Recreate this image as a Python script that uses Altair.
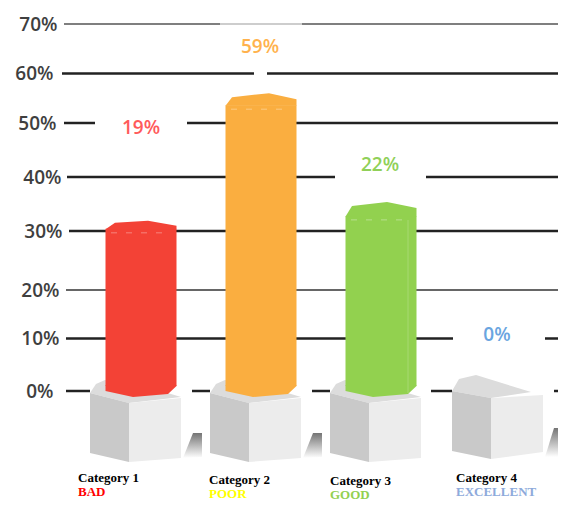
import altair as alt
import pandas as pd

# ---- values ----
categories = ["Category 1", "Category 2", "Category 3", "Category 4"]
ratings = ["BAD", "POOR", "GOOD", "EXCELLENT"]
rating_colors = ["#ff0000", "#ffff00", "#92d050", "#8eaadb"]
value_labels = ["19%", "59%", "22%", "0%"]
value_colors = ["#ff5a5a", "#ffb24d", "#90d058", "#6aa5e0"]
bar_categories = ["Category 1", "Category 2", "Category 3"]
bar_values = [30.4, 53.6, 32.8]
bar_colors = ["#f34236", "#faae40", "#92d14f"]
ticks = [0, 10, 20, 30, 40, 50, 60, 70]

# ---- layout ----
ORIGIN_X = 70
W, H = 558 - ORIGIN_X, 493
y_scale = alt.Scale(domain=ticks, range=[383, 330.5, 282, 223, 169, 115, 65.5, 16], nice=False, zero=False)
x_scale = alt.Scale(type="point", domain=categories, range=[71, 431], padding=0)
X = alt.X("category:N", scale=x_scale, axis=None)

# tick, start, end, width, colour (page pixels)
segments = [
    (70, 64, 220, 1.5, "#555555"), (70, 220, 302, 1.5, "#bdbdbd"), (70, 302, 558, 1.5, "#555555"),
    (60, 62, 254, 2.5, "#222222"), (60, 267, 558, 2.5, "#222222"),
    (50, 64, 95, 2.5, "#222222"), (50, 187, 558, 2.5, "#222222"),
    (40, 67, 335, 2.5, "#222222"), (40, 426, 558, 2.5, "#222222"),
    (30, 69, 558, 2.5, "#222222"),
    (20, 66, 558, 1.5, "#333333"),
    (10, 66, 453, 2.5, "#222222"), (10, 545, 558, 2.5, "#222222"),
    (0, 66, 90, 2.5, "#222222"), (0, 192, 210, 2.5, "#222222"), (0, 312, 330, 2.5, "#222222"),
    (0, 431, 452, 2.5, "#222222"), (0, 554, 558, 2.5, "#222222"),
]
seg_df = pd.DataFrame(
    [{"tick": t, "x0": a - ORIGIN_X, "x1": b - ORIGIN_X, "w": w, "c": c} for t, a, b, w, c in segments]
)

label_right = {70: 57, 60: 53, 50: 56, 40: 61, 30: 62, 20: 59, 10: 59, 0: 53}
pad_conditions = [
    {"test": f"datum.value == {k}", "value": ORIGIN_X - v} for k, v in label_right.items()
]

# Shapes: pixel offsets from the anchor (a custom symbol of size 4 is drawn 1:1)
def poly(points):
    return "M" + "L".join(f"{x} {y}" for x, y in points) + "Z"

CUBE_LEFT = poly([(-51, 2), (-12, 12), (-12, 71), (-51, 62)])
CUBE_RIGHT = poly([(-12, 12), (40, 7), (40, 67), (-12, 71)])
CUBE_TOP = poly([(-51, 2), (-45, -7), (-36, -11), (0, -6), (40, 6), (-12, 12)])
CUBE4_LEFT = poly([(-49, 0), (-10, 7), (-10, 68), (-49, 60)])
CUBE4_RIGHT = poly([(-10, 7), (42, 4), (42, 61), (-10, 68)])
CUBE4_TOP = poly([(-49, 0), (-42, -12), (-25, -16), (30, 1), (-10, 7)])
SHADOW = poly([(52, 42), (61, 42), (61, 66), (42, 67)])
SHADOW4 = poly([(53, 37), (57, 37), (57, 66), (44, 66)])
CAPS_TOP = [
    poly([(-35.5, 0.5), (-26, -6), (7, -8), (35.5, -3), (35.5, 0.5)]),
    poly([(-35.5, 0.5), (-29, -8), (8, -12), (35.5, -6), (35.5, 0.5)]),
    poly([(-35.5, 0.5), (-29, -10), (6, -14), (35.5, -8), (35.5, 0.5)]),
]
CAP_BOTTOM = poly([(-35.5, -6), (-35.5, 0), (-8, 6), (27, 3), (35.5, -5), (35.5, -6)])
CAP_DASH = "M-30 4L30 4"
GREEN_EDGE = "M27 -171L27 2"

shade = alt.LinearGradient(
    gradient="linear",
    stops=[alt.GradientStop(color="#747474", offset=0), alt.GradientStop(color="#ffffff", offset=1)],
    x1=0, x2=0, y1=0, y2=1,
)


def shape(category, path, fill, y=alt.datum(0)):
    return (
        alt.Chart(pd.DataFrame({"category": [category]}))
        .mark_point(shape=path, size=4, filled=True, fill=fill, opacity=1, strokeWidth=0)
        .encode(x=X, y=y)
    )


grid = (
    alt.Chart(seg_df)
    .mark_rule()
    .encode(
        x=alt.X("x0:Q", scale=None, axis=None),
        x2="x1:Q",
        y=alt.Y(
            "tick:Q",
            scale=y_scale,
            axis=alt.Axis(
                values=ticks, title=None, domain=False, ticks=False, grid=False,
                labelExpr="datum.value + '%'",
                labelFont="Open Sans", labelFontSize=19, labelFontWeight=600, labelColor="#3f3f3f",
                labelPadding={"condition": pad_conditions, "value": 10},
            ),
        ),
        strokeWidth=alt.StrokeWidth("w:Q", scale=None),
        color=alt.Color("c:N", scale=None),
    )
)

layers = [grid]

for c, s in ((categories[0], SHADOW), (categories[1], SHADOW), (categories[3], SHADOW4)):
    layers.append(shape(c, s, shade))
for c in categories[:3]:
    layers += [shape(c, CUBE_TOP, "#dcdcdc"), shape(c, CUBE_LEFT, "#c9c9c9"), shape(c, CUBE_RIGHT, "#ececec")]
layers += [
    shape(categories[3], CUBE4_TOP, "#dcdcdc"),
    shape(categories[3], CUBE4_LEFT, "#c9c9c9"),
    shape(categories[3], CUBE4_RIGHT, "#ececec"),
]

bars_df = pd.DataFrame({"category": bar_categories, "value": bar_values, "c": bar_colors})
layers.append(
    alt.Chart(bars_df)
    .mark_bar(size=71)
    .encode(
        x=X,
        y=alt.Y("value:Q", scale=y_scale),
        y2=alt.datum(1),
        color=alt.Color("c:N", scale=None),
    )
)

Yval = alt.Y("value:Q", scale=y_scale)
for cat, val, col, cap in zip(bar_categories, bar_values, bar_colors, CAPS_TOP):
    d = pd.DataFrame({"category": [cat], "value": [val]})
    layers.append(
        alt.Chart(d).mark_point(shape=cap, size=4, filled=True, fill=col, opacity=1, strokeWidth=0).encode(x=X, y=Yval)
    )
    layers.append(shape(cat, CAP_BOTTOM, col))
    layers.append(
        alt.Chart(d)
        .mark_point(shape=CAP_DASH, size=4, filled=False, stroke="#ffffff", strokeWidth=1, strokeDash=[6, 9], opacity=0.35)
        .encode(x=X, y=Yval)
    )

layers.append(
    alt.Chart(pd.DataFrame({"category": [categories[2]]}))
    .mark_point(shape=GREEN_EDGE, size=4, filled=False, stroke="#ffffff", strokeWidth=1, opacity=0.2)
    .encode(x=X, y=alt.datum(0))
)

# value labels
value_y = [120, 39, 157, 327]
for cat, txt, col, vy in zip(categories, value_labels, value_colors, value_y):
    layers.append(
        alt.Chart(pd.DataFrame({"category": [cat], "t": [txt]}))
        .mark_text(font="Open Sans", fontSize=19, fontWeight=600, color=col, baseline="middle", align="center",
                   dx={"Category 1": 0, "Category 2": -1, "Category 3": -1, "Category 4": -4}[cat])
        .encode(x=X, y=alt.value(vy), text="t:N")
    )

# category labels (moved up a little so the rating line stays inside the drawable page)
cat_dx = [-63, -52, -51, -45]
cat_y = [470, 472, 473, 470]
rate_y = [484, 486, 487, 484]
for cat, rating, rc, dx, cy, ry in zip(categories, ratings, rating_colors, cat_dx, cat_y, rate_y):
    d = pd.DataFrame({"category": [cat], "a": [cat], "b": [rating]})
    layers.append(
        alt.Chart(d)
        .mark_text(font="Liberation Serif", fontSize=13, fontWeight="bold", color="#000000", align="left", baseline="middle", dx=dx)
        .encode(x=X, y=alt.value(cy), text="a:N")
    )
    layers.append(
        alt.Chart(d)
        .mark_text(font="Liberation Serif", fontSize=13, fontWeight="bold", color=rc, align="left", baseline="middle", dx=dx)
        .encode(x=X, y=alt.value(ry), text="b:N")
    )

chart = (
    alt.layer(*layers)
    .properties(
        width=W,
        height=H,
        padding={"left": ORIGIN_X - 8, "top": 0, "right": 0, "bottom": 0},
        autosize=alt.AutoSizeParams(type="none"),
    )
    .configure_view(stroke=None)
)

chart.save("out.html", embed_options={"renderer": "svg", "actions": False})
